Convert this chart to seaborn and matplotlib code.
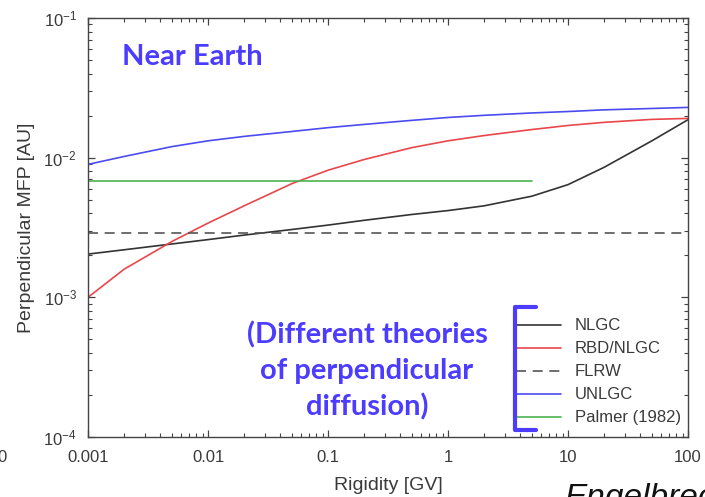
import seaborn as sns
import matplotlib.pyplot as plt
import matplotlib.ticker as mticker
from matplotlib.lines import Line2D
import pandas as pd

# rigidity grid [GV]
rigidity = [0.001, 0.002, 0.005, 0.01, 0.02, 0.05, 0.1, 0.2, 0.5, 1, 2, 5, 10, 20, 50, 100]

nlgc = [2.04e-3, 2.19e-3, 2.41e-3, 2.59e-3, 2.79e-3, 3.06e-3, 3.29e-3, 3.56e-3,
        3.92e-3, 4.18e-3, 4.52e-3, 5.30e-3, 6.41e-3, 8.53e-3, 1.32e-2, 1.87e-2]
rbd_nlgc = [1.0e-3, 1.59e-3, 2.51e-3, 3.40e-3, 4.52e-3, 6.52e-3, 8.13e-3, 9.7e-3,
            1.18e-2, 1.32e-2, 1.44e-2, 1.59e-2, 1.70e-2, 1.79e-2, 1.88e-2, 1.91e-2]
unlgc = [8.95e-3, 1.02e-2, 1.20e-2, 1.32e-2, 1.42e-2, 1.54e-2, 1.64e-2, 1.73e-2,
         1.85e-2, 1.94e-2, 2.01e-2, 2.09e-2, 2.14e-2, 2.20e-2, 2.25e-2, 2.29e-2]
flrw_x = [0.001, 100]
flrw = [2.9e-3, 2.9e-3]
palmer_x = [0.001, 5]
palmer = [6.8e-3, 6.8e-3]

x_ticks = [0.001, 0.01, 0.1, 1, 10, 100]
x_tick_labels = ['0.001', '0.01', '0.1', '1', '10', '100']

blue = '#4b3cff'
gray = '#3a3a3a'

sns.set_style('ticks')
plt.rcParams['font.family'] = ['Liberation Sans', 'DejaVu Sans']
plt.rcParams['axes.unicode_minus'] = False
plt.rcParams['mathtext.fontset'] = 'custom'
plt.rcParams['mathtext.rm'] = 'Liberation Sans'

fig = plt.figure(figsize=(7.05, 4.97), dpi=100)
ax = fig.add_axes([88 / 705, 1 - 437 / 497, 600 / 705, 419 / 497])

df_main = pd.DataFrame({'x': rigidity, 'nlgc': nlgc, 'rbd': rbd_nlgc, 'unlgc': unlgc})
df_flrw = pd.DataFrame({'x': flrw_x, 'y': flrw})
df_palmer = pd.DataFrame({'x': palmer_x, 'y': palmer})

sns.lineplot(data=df_main, x='x', y='nlgc', ax=ax, color='#333333', lw=1.2, label='NLGC')
sns.lineplot(data=df_main, x='x', y='rbd', ax=ax, color='#e8474c', lw=1.2, label='RBD/NLGC')
sns.lineplot(data=df_flrw, x='x', y='y', ax=ax, color='#555555', lw=1.2,
             linestyle=(0, (6, 4)), label='FLRW')
sns.lineplot(data=df_main, x='x', y='unlgc', ax=ax, color='#4b4bf0', lw=1.2, label='UNLGC')
sns.lineplot(data=df_palmer, x='x', y='y', ax=ax, color='#4db34d', lw=1.2, label='Palmer (1982)')

ax.set_xscale('log')
ax.set_yscale('log')
ax.set_xlim(0.001, 100)
ax.set_ylim(1e-4, 1e-1)
ax.set_xticks(x_ticks)
ax.xaxis.set_major_formatter(mticker.FixedFormatter(x_tick_labels))
ax.xaxis.set_minor_formatter(mticker.NullFormatter())
ax.tick_params(which='both', direction='in', top=True, right=True,
               colors='#444444', labelcolor=gray, labelsize=12)
ax.tick_params(which='major', length=5, width=0.9)
ax.tick_params(which='minor', length=3, width=0.8)
ax.tick_params(axis='x', pad=9)
ax.tick_params(axis='y', pad=8)
for sp in ax.spines.values():
    sp.set_color('#444444')
    sp.set_linewidth(1.0)

ax.set_xlabel('Rigidity [GV]', fontsize=14, color=gray, labelpad=9)
ax.set_ylabel('Perpendicular MFP [AU]', fontsize=14, color=gray, labelpad=6)

leg = ax.legend(loc='lower right', bbox_to_anchor=(1.013, -0.008), frameon=False,
                fontsize=12, handlelength=2.7, handletextpad=0.8, labelspacing=0.48)
for t in leg.get_texts():
    t.set_color(gray)

# blue annotations
fig.text(192 / 705, 1 - 57 / 497, 'Near Earth', color=blue, fontsize=21, fontweight='bold',
         family=['Lato', 'DejaVu Sans'], ha='center', va='center')
fig.text(367 / 705, 1 - 371 / 497, '(Different theories\nof perpendicular\ndiffusion)',
         color=blue, fontsize=21, fontweight='bold', family=['Lato', 'DejaVu Sans'],
         ha='center', va='center', linespacing=1.42)
bx = [536 / 705, 515 / 705, 515 / 705, 536 / 705]
by = [1 - 307 / 497, 1 - 307 / 497, 1 - 430 / 497, 1 - 430 / 497]
fig.add_artist(Line2D(bx, by, color=blue, lw=3, transform=fig.transFigure))

fig.text(565 / 705, 1 - 483 / 497, 'Engelbrecht', fontsize=24, style='italic',
         color='#111111', ha='left', va='top')
fig.text(2 / 705, 1 - 457 / 497, '0', fontsize=12, color=gray, ha='center', va='center')

fig.savefig('out.png', dpi=100)
